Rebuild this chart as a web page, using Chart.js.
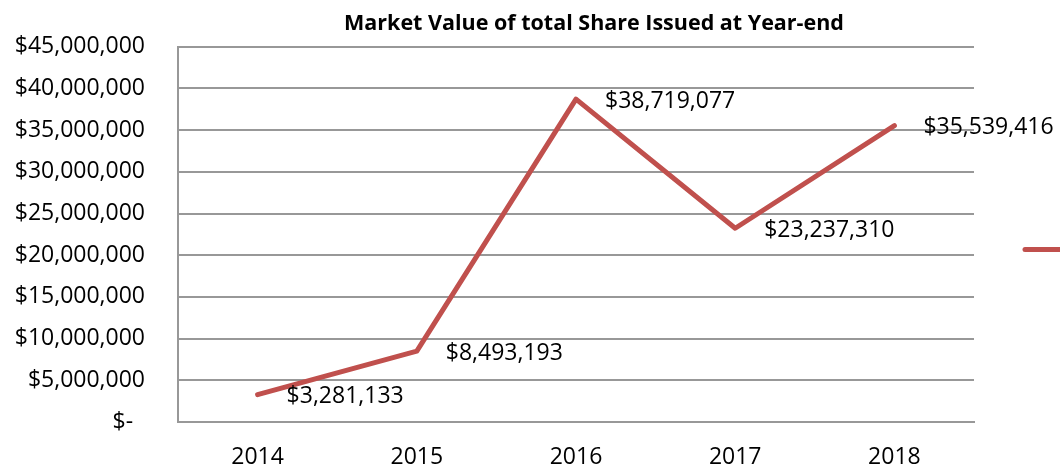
<!DOCTYPE html>
<html>
<head>
<meta charset="utf-8">
<script src="https://cdn.jsdelivr.net/npm/chart.js@4.4.1/dist/chart.umd.min.js"></script>
<style>
  html, body { margin: 0; padding: 0; background: #fff; overflow: hidden; }
  #wrap { width: 1060px; height: 469px; position: relative; }
</style>
</head>
<body>
<div id="wrap"><canvas id="c" width="1060" height="469"></canvas></div>
<script>
const categories = ['2014', '2015', '2016', '2017', '2018'];
const marketValues = [3281133, 8493193, 38719077, 23237310, 35539416];
const seriesName = 'Market Value';
const chartTitle = 'Market Value of total Share Issued at Year-end';
const yMin = 0, yMax = 45000000, yStep = 5000000;

const FONT = "'Open Sans', 'Noto Sans', sans-serif";
const LINE_COLOR = '#C0504D';
const GRID_COLOR = '#989898';

function money(v) {
  return '$' + Math.round(v).toLocaleString('en-US');
}

const dataLabelPlugin = {
  id: 'dataLabels',
  afterDatasetsDraw(chart) {
    const ctx = chart.ctx;
    ctx.save();
    ctx.font = '23px ' + FONT;
    ctx.fillStyle = '#000';
    ctx.textAlign = 'left';
    ctx.textBaseline = 'middle';
    chart.data.datasets.forEach((ds, i) => {
      const meta = chart.getDatasetMeta(i);
      meta.data.forEach((pt, j) => {
        ctx.fillText(money(ds.data[j]), pt.x + 29, pt.y + 2);
      });
    });
    ctx.restore();
  }
};

const titlePlugin = {
  id: 'offsetTitle',
  afterDraw(chart) {
    const ctx = chart.ctx;
    const a = chart.chartArea;
    ctx.save();
    ctx.font = 'bold 21.5px ' + FONT;
    ctx.fillStyle = '#000';
    ctx.textAlign = 'center';
    ctx.textBaseline = 'middle';
    ctx.fillText(chartTitle, (a.left + a.right) / 2 + 18, a.top / 2);
    ctx.restore();
  }
};

const legendLinePlugin = {
  id: 'legendLine',
  afterDraw(chart) {
    const ctx = chart.ctx;
    const ds = chart.data.datasets[0];
    const x0 = chart.chartArea.right + 51;
    const y = chart.height / 2 + 15;
    ctx.save();
    ctx.strokeStyle = ds.borderColor;
    ctx.lineWidth = ds.borderWidth;
    ctx.lineCap = 'round';
    ctx.beginPath();
    ctx.moveTo(x0, y);
    ctx.lineTo(x0 + 40, y);
    ctx.stroke();
    ctx.restore();
  }
};

Chart.defaults.font.family = FONT;
Chart.defaults.color = '#000';

new Chart(document.getElementById('c'), {
  type: 'line',
  data: {
    labels: categories,
    datasets: [{
      label: seriesName,
      data: marketValues,
      borderColor: LINE_COLOR,
      backgroundColor: LINE_COLOR,
      borderWidth: 5,
      borderCapStyle: 'round',
      borderJoinStyle: 'round',
      pointRadius: 0,
      pointHoverRadius: 0,
      tension: 0,
      fill: false,
      yAxisID: 'y'
    }]
  },
  options: {
    responsive: false,
    animation: false,
    events: [],
    layout: { padding: { left: 0, right: 86, top: 44, bottom: 0 } },
    plugins: {
      legend: { display: false },
      tooltip: { enabled: false },
      title: { display: false }
    },
    scales: {
      x: {
        offset: true,
        grid: { display: false, drawTicks: false },
        border: { display: true, color: GRID_COLOR, width: 2 },
        ticks: { font: { size: 23 }, color: '#000', padding: 22, maxRotation: 0 },
        afterFit(scale) { scale.height = 47; }
      },
      y: {
        position: 'left',
        min: yMin,
        max: yMax,
        grid: { color: GRID_COLOR, lineWidth: 2, drawTicks: false },
        border: { display: true, color: GRID_COLOR, width: 2 },
        ticks: {
          stepSize: yStep,
          font: { size: 23 },
          color: '#000',
          padding: 33,
          callback: (v) => v === 0 ? '$-  ' : money(v)
        },
        afterFit(scale) { scale.width = 178; }
      }
    }
  },
  plugins: [dataLabelPlugin, titlePlugin, legendLinePlugin]
});
</script>
</body>
</html>
